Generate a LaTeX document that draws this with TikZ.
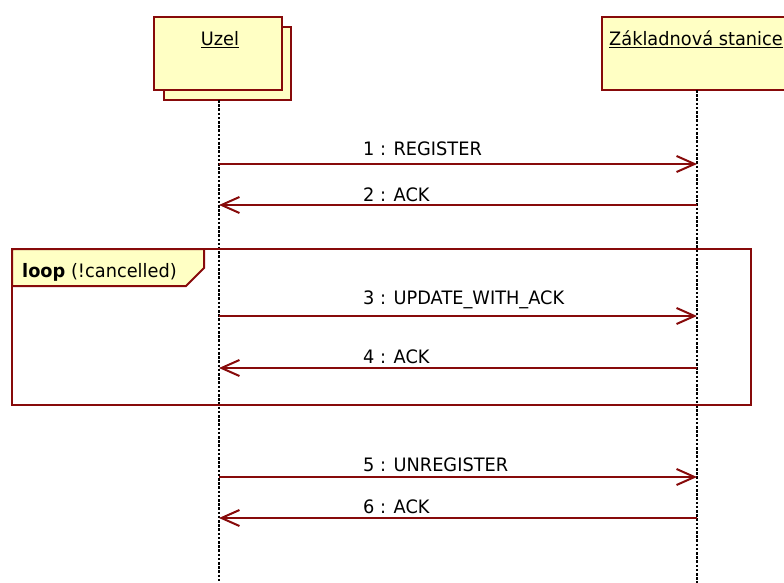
\documentclass[tikz,border=0pt]{standalone}
\usepackage{fontspec}
\setmainfont{DejaVu Sans}[FakeStretch=0.96]
\usetikzlibrary{arrows.meta}
\definecolor{umlred}{RGB}{135,10,10}
\definecolor{umlyellow}{RGB}{255,255,196}
\tikzset{
  lifebox/.style={draw=umlred, fill=umlyellow, line width=2.4pt, rectangle, inner sep=0pt, anchor=north west},
  lifeline/.style={draw=black, line width=2pt, dash pattern=on 2.6pt off 1.6pt},
  msg/.style={draw=umlred, line width=2pt, -{Straight Barb[length=18pt,width=16pt,line width=2pt]}},
  txt/.style={font=\fontsize{18.5}{21}\selectfont, inner sep=0pt, text=black},
  frame/.style={draw=umlred, line width=2pt},
}
\begin{document}
\begin{tikzpicture}[x=1pt,y=-1pt]
\useasboundingbox (0,0) rectangle (784,583);
% Uzel (multi-object)
\node[lifebox, minimum width=127pt, minimum height=73pt] (uzelback) at (163,26) {};
\node[lifebox, minimum width=128pt, minimum height=73pt] (uzel) at (153,16) {};
\node[txt, anchor=base] (uzelt) at (220,46) {\underline{Uzel}};
% Zakladnova stanice
\node[lifebox, minimum width=192pt, minimum height=73pt] (zs) at (601,16) {};
\node[txt, anchor=base] (zst) at (696,46) {\underline{Základnová stanice}};
% lifelines
\coordinate (l1top) at (219,100);
\coordinate (l1bot) at (219,583);
\coordinate (l2top) at (697,90);
\coordinate (l2bot) at (697,583);
\draw[lifeline] (l1top) -- (l1bot);
\draw[lifeline] (l2top) -- (l2bot);
% loop frame
\coordinate (fnw) at (12,249);
\coordinate (fse) at (751,405);
\draw[frame] (fnw) rectangle (fse);
\coordinate (t1) at (204,249);
\coordinate (t2) at (204,268);
\coordinate (t3) at (186,286);
\coordinate (t4) at (12,286);
\draw[frame, fill=umlyellow] (fnw) -- (t1) -- (t2) -- (t3) -- (t4) -- cycle;
\node[txt, anchor=base west] (looplbl) at (22,277.5) {\textbf{loop} (!cancelled)};
% messages
\foreach \i/\y in {1/164,2/205,3/316,4/368,5/477,6/518}{
  \coordinate (a\i) at (219,\y);
  \coordinate (b\i) at (697,\y);
}
\draw[msg] (a1) -- (b1);
\draw[msg] (b2) -- (a2);
\draw[msg] (a3) -- (b3);
\draw[msg] (b4) -- (a4);
\draw[msg] (a5) -- (b5);
\draw[msg] (b6) -- (a6);
\node[txt, anchor=base west] (m1) at (363,155.5) {1 : REGISTER};
\node[txt, anchor=base west] (m2) at (363,201) {2 : ACK};
\node[txt, anchor=base west] (m3) at (363,304.5) {3 : UPDATE\_WITH\_ACK};
\node[txt, anchor=base west] (m4) at (363,363.5) {4 : ACK};
\node[txt, anchor=base west] (m5) at (363,471) {5 : UNREGISTER};
\node[txt, anchor=base west] (m6) at (363,513) {6 : ACK};
\end{tikzpicture}
\end{document}
